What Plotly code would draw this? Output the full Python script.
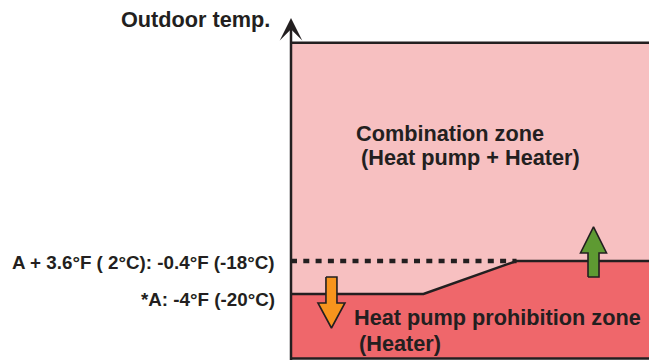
import plotly.graph_objects as go

# Operating zones versus outdoor temperature (°F)
zone_x = [0, 37, 63, 100]                 # horizontal extent (relative units)
prohibition_limit = [-4.0, -4.0, -0.4, -0.4]  # upper edge of the heat pump prohibition zone
temp_a = -4.0                             # *A
temp_a_plus = -0.4                        # A + 3.6°F
combination_top = 23.4                    # top edge of the combination zone
floor_temp = -11.05                       # bottom edge of the drawing
axis_top = 26.1

label_a_plus = "A + 3.6°F ( 2°C): -0.4°F (-18°C)"
label_a = "*A: -4°F (-20°C)"
zone_upper = ["Combination zone", "(Heat pump + Heater)"]
zone_lower = ["Heat pump prohibition zone", "(Heater)"]

INK = "#231F20"
PINK = "#F7C0C1"
RED = "#EF676B"
ORANGE = "#F7941D"
GREEN = "#5E9A32"
FONT = "Liberation Sans"

W, H = 649, 360
L, T = 291, 18
x_range = [zone_x[0], zone_x[-1]]
y_range = [-11.2, axis_top]
px_per_x = (W - L) / (x_range[1] - x_range[0])
px_per_y = (H - T) / (y_range[1] - y_range[0])


def block_arrow(xc, y_tail, y_head_base, y_tip, shaft_px, head_px):
    """Closed polygon of a block arrow pointing from y_tail towards y_tip."""
    s = shaft_px / 2 / px_per_x
    h = head_px / 2 / px_per_x
    xs = [xc - s, xc + s, xc + s, xc + h, xc, xc - h, xc - s, xc - s]
    ys = [y_tail, y_tail, y_head_base, y_head_base, y_tip, y_head_base, y_head_base, y_tail]
    return xs, ys


fig = go.Figure()

# Combination zone (whole area up to the top edge)
fig.add_trace(go.Scatter(
    x=[zone_x[0], zone_x[-1], zone_x[-1], zone_x[0]],
    y=[floor_temp, floor_temp, combination_top, combination_top],
    fill="toself", fillcolor=PINK, mode="none", hoverinfo="skip"))

# Heat pump prohibition zone
fig.add_trace(go.Scatter(
    x=zone_x + [zone_x[-1], zone_x[0]],
    y=prohibition_limit + [floor_temp, floor_temp],
    fill="toself", fillcolor=RED, mode="none", hoverinfo="skip"))

# Top edge
fig.add_trace(go.Scatter(
    x=x_range, y=[combination_top, combination_top], mode="lines",
    line=dict(color=INK, width=2.5), hoverinfo="skip"))

# Bottom edge
fig.add_trace(go.Scatter(
    x=x_range, y=[floor_temp, floor_temp], mode="lines",
    line=dict(color=INK, width=2.5), hoverinfo="skip"))

# A + 3.6°F reference (dotted)
fig.add_trace(go.Scatter(
    x=[zone_x[0], zone_x[2]], y=[temp_a_plus, temp_a_plus], mode="lines",
    line=dict(color=INK, width=4.5, dash="6px,6.3px"), hoverinfo="skip"))

# Prohibition zone boundary
fig.add_trace(go.Scatter(
    x=zone_x, y=prohibition_limit, mode="lines",
    line=dict(color=INK, width=2.5), hoverinfo="skip"))

# Direction arrows
ox, oy = block_arrow(11.3, -2.15, -4.98, -7.71, 11, 27)
fig.add_trace(go.Scatter(x=ox, y=oy, fill="toself", fillcolor=ORANGE, mode="lines",
                         line=dict(color=INK, width=1.6), hoverinfo="skip"))
gx, gy = block_arrow(84.5, -2.15, 0.47, 3.31, 11, 26)
fig.add_trace(go.Scatter(x=gx, y=gy, fill="toself", fillcolor=GREEN, mode="lines",
                         line=dict(color=INK, width=1.6), hoverinfo="skip"))

big = dict(family=FONT, size=21.7, color=INK, weight="bold")
small = dict(family=FONT, size=18.8, color=INK, weight="bold")

annotations = [
    # vertical temperature axis with arrowhead
    dict(x=0, y=axis_top, ax=0, ay=floor_temp - 1, xref="x", yref="y", axref="x", ayref="y",
         showarrow=True, arrowhead=3, arrowsize=1.5, arrowwidth=2.5, arrowcolor=INK,
         standoff=0, text=""),
    dict(x=0, y=1, xref="paper", yref="paper", xanchor="right", yanchor="middle",
         xshift=-19, yshift=-1, text="Outdoor temp.", showarrow=False, font=big),
    dict(x=0, y=temp_a_plus, xref="paper", yref="y", xanchor="right", yanchor="middle",
         xshift=-14, yshift=-2, text=label_a_plus, showarrow=False, font=small),
    dict(x=0, y=temp_a, xref="paper", yref="y", xanchor="right", yanchor="middle",
         xshift=-14, yshift=-6, text=label_a, showarrow=False, font=small),
    dict(x=17.7, y=13.45, xref="x", yref="y", xanchor="left", yanchor="middle",
         text=zone_upper[0], showarrow=False, font=big),
    dict(x=19.1, y=10.84, xref="x", yref="y", xanchor="left", yanchor="middle",
         text=zone_upper[1], showarrow=False, font=big),
    dict(x=16.9, y=-6.51, xref="x", yref="y", xanchor="left", yanchor="middle",
         text=zone_lower[0], showarrow=False, font=big),
    dict(x=18.5, y=-9.35, xref="x", yref="y", xanchor="left", yanchor="middle",
         text=zone_lower[1], showarrow=False, font=big),
]

fig.update_layout(
    width=W, height=H,
    margin=dict(l=L, r=0, t=T, b=0, pad=0),
    paper_bgcolor="white", plot_bgcolor="white",
    showlegend=False,
    xaxis=dict(range=x_range, visible=False, fixedrange=True),
    yaxis=dict(range=y_range, visible=False, fixedrange=True),
    annotations=annotations,
)

fig.write_html("out.html")
